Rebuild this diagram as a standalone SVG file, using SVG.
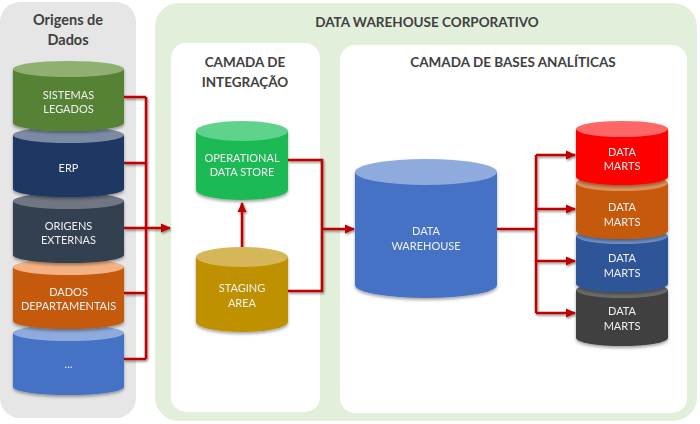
<svg xmlns="http://www.w3.org/2000/svg" width="700" height="424" viewBox="0 0 700 424">
<defs>
<style>
.t{font-family:Lato,"Open Sans","Liberation Sans",sans-serif;font-weight:bold;fill:#404040;text-anchor:middle}
.c{font-family:Lato,"Open Sans","Liberation Sans",sans-serif;font-size:11px;fill:#f0f0f0;text-anchor:middle}
.ln{fill:none;stroke:#c00000;stroke-width:2.5}
</style>
<filter id="sh" x="-20%" y="-20%" width="140%" height="140%"><feDropShadow dx="0" dy="2" stdDeviation="1.5" flood-color="#000" flood-opacity="0.35"/></filter>
<filter id="lsh" x="-20%" y="-20%" width="140%" height="140%"><feDropShadow dx="1" dy="1.5" stdDeviation="0.8" flood-color="#000" flood-opacity="0.45"/></filter>
<marker id="ah" markerUnits="userSpaceOnUse" markerWidth="10" markerHeight="10" viewBox="0 0 10 10" refX="9" refY="5" orient="auto"><path d="M0,0.5 L10,5 L0,9.5 Z" fill="#c00000"/></marker>
</defs>
<g id="panels">
<rect x="0" y="2" width="136" height="416" rx="20" fill="#e7e6e6"/>
<rect x="155" y="3" width="542" height="418" rx="24" fill="#e2efda"/>
<rect x="171" y="43" width="149" height="369" rx="15" fill="#fff"/>
<rect x="340" y="45" width="347" height="368" rx="15" fill="#fff"/>
<text class="t" x="68" y="25" font-size="14.5">Origens de</text>
<text class="t" x="68" y="45" font-size="14.5">Dados</text>
<text class="t" x="427" y="27" font-size="13.5">DATA WAREHOUSE CORPORATIVO</text>
<text class="t" x="245" y="67" font-size="13.5">CAMADA DE</text>
<text class="t" x="245" y="87" font-size="13.5">INTEGRAÇÃO</text>
<text class="t" x="513" y="67" font-size="13.5">CAMADA DE BASES ANALÍTICAS</text>
</g>
<g id="connectors" filter="url(#lsh)">
<path class="ln" d="M124,97 H146 M124,163 H146 M124,228 H146 M124,293 H146 M124,359 H146 M146,97 V359"/>
<path class="ln" d="M146,228 H170" marker-end="url(#ah)"/>
<path class="ln" d="M242,256 V203" marker-end="url(#ah)"/>
<path class="ln" d="M288,160 H322 V291 H288"/>
<path class="ln" d="M322,229 H354" marker-end="url(#ah)"/>
<path class="ln" d="M497,229 H536" stroke-width="4"/>
<path class="ln" d="M536,155 V313"/>
<path class="ln" d="M536,155 H575" marker-end="url(#ah)"/>
<path class="ln" d="M536,209 H575" marker-end="url(#ah)"/>
<path class="ln" d="M536,261 H575" marker-end="url(#ah)"/>
<path class="ln" d="M536,313 H575" marker-end="url(#ah)"/>
</g>
<g id="outros" filter="url(#sh)">
<path d="M13,333 V387 A55.5,8 0 0 0 124,387 V333 Z" fill="#4472c4"/>
<ellipse cx="68.5" cy="333" rx="55.5" ry="8" fill="#8faadc"/>
<text class="c" x="68.5" y="368">...</text>
</g>
<g id="dados-departamentais" filter="url(#sh)">
<path d="M13,267 V321 A55.5,8 0 0 0 124,321 V267 Z" fill="#c55a11"/>
<ellipse cx="68.5" cy="267" rx="55.5" ry="8" fill="#f4b183"/>
<text class="c" x="68.5" y="296">DADOS</text>
<text class="c" x="68.5" y="310">DEPARTAMENTAIS</text>
</g>
<g id="origens-externas" filter="url(#sh)">
<path d="M13,201 V255 A55.5,8 0 0 0 124,255 V201 Z" fill="#333f50"/>
<ellipse cx="68.5" cy="201" rx="55.5" ry="8" fill="#6f7682"/>
<text class="c" x="68.5" y="230">ORIGENS</text>
<text class="c" x="68.5" y="244">EXTERNAS</text>
</g>
<g id="erp" filter="url(#sh)">
<path d="M13,135 V189 A55.5,8 0 0 0 124,189 V135 Z" fill="#1f3864"/>
<ellipse cx="68.5" cy="135" rx="55.5" ry="8" fill="#7c8aa3"/>
<text class="c" x="68.5" y="172">ERP</text>
</g>
<g id="sistemas-legados" filter="url(#sh)">
<path d="M13,69 V123 A55.5,8 0 0 0 124,123 V69 Z" fill="#548235"/>
<ellipse cx="68.5" cy="69" rx="55.5" ry="8" fill="#8fb070"/>
<text class="c" x="68.5" y="99">SISTEMAS</text>
<text class="c" x="68.5" y="113">LEGADOS</text>
</g>
<g id="ods" filter="url(#sh)">
<path d="M196,131 V190 A46,10 0 0 0 288,190 V131 Z" fill="#1dba55"/>
<ellipse cx="242" cy="131" rx="46" ry="10" fill="#5fd38b"/>
<text class="c" x="242" y="162">OPERATIONAL</text>
<text class="c" x="242" y="176">DATA STORE</text>
</g>
<g id="staging" filter="url(#sh)">
<path d="M196,257 V322 A46,10 0 0 0 288,322 V257 Z" fill="#bf9000"/>
<ellipse cx="242" cy="257" rx="46" ry="10" fill="#d5b658"/>
<text class="c" x="242" y="292">STAGING</text>
<text class="c" x="242" y="307">AREA</text>
</g>
<g id="dw" filter="url(#sh)">
<path d="M355,172 V285 A71,13 0 0 0 497,285 V172 Z" fill="#4472c4"/>
<ellipse cx="426" cy="172" rx="71" ry="13" fill="#8faadc"/>
<text class="c" x="426" y="235">DATA</text>
<text class="c" x="426" y="250">WAREHOUSE</text>
</g>
<g id="dm4" filter="url(#sh)">
<path d="M576,290 V338 A46,8 0 0 0 668,338 V290 Z" fill="#404040"/>
<ellipse cx="622" cy="290" rx="46" ry="8" fill="#6a6a6a"/>
<text class="c" x="622" y="315">DATA</text>
<text class="c" x="622" y="330">MARTS</text>
</g>
<g id="dm3" filter="url(#sh)">
<path d="M576,236 V284 A46,8 0 0 0 668,284 V236 Z" fill="#2f5597"/>
<ellipse cx="622" cy="236" rx="46" ry="8" fill="#6f8fc4"/>
<text class="c" x="622" y="262">DATA</text>
<text class="c" x="622" y="277">MARTS</text>
</g>
<g id="dm2" filter="url(#sh)">
<path d="M576,183 V231 A46,8 0 0 0 668,231 V183 Z" fill="#c55a11"/>
<ellipse cx="622" cy="183" rx="46" ry="8" fill="#e0915a"/>
<text class="c" x="622" y="211">DATA</text>
<text class="c" x="622" y="226">MARTS</text>
</g>
<g id="dm1" filter="url(#sh)">
<path d="M576,129 V177 A46,8 0 0 0 668,177 V129 Z" fill="#ff0000"/>
<ellipse cx="622" cy="129" rx="46" ry="8" fill="#ff6666"/>
<text class="c" x="622" y="156">DATA</text>
<text class="c" x="622" y="170">MARTS</text>
</g>
</svg>
